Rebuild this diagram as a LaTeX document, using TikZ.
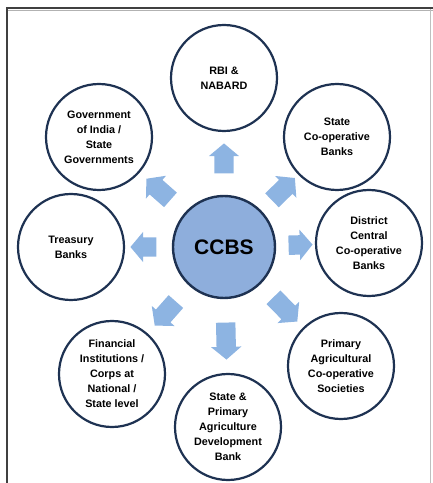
\documentclass[tikz,border=0pt]{standalone}
\usepackage{fontspec}
\setmainfont{Liberation Sans}
\usepackage{tikz}
\usetikzlibrary{calc, positioning, shapes.arrows}
\definecolor{ringcolor}{RGB}{30,50,82}
\definecolor{arrowcolor}{RGB}{141,180,226}
\definecolor{hubcolor}{RGB}{142,174,220}
\definecolor{framecolor}{RGB}{64,64,64}

\begin{document}
\begin{tikzpicture}[x=1pt, y=1pt,
  entity/.style={circle, draw=ringcolor, line width=2.2pt, fill=white,
    minimum size=106pt, inner sep=0pt, align=center, text=black,
    font=\fontsize{10.8}{15}\selectfont\bfseries},
  hub/.style={entity, fill=hubcolor, line width=2.4pt, minimum size=102pt,
    font=\fontsize{21}{24}\selectfont\bfseries},
  flow/.style={single arrow, fill=arrowcolor, draw=none, inner xsep=0pt,
    inner ysep=9.5pt, single arrow head extend=5.5pt,
    single arrow tip angle=100, anchor=center}]
  \useasboundingbox (0,0) rectangle (433,483);

  % frame
  \draw[framecolor, line width=2pt] (6.5,0) -- (6.5,475) -- (433,475);
  \draw[black!30] (7.5,473.2) -- (433,473.2);
  \draw[black!25] (430,0) -- (430,474);

  % centre and the bodies round it
  \node[hub] (ccbs) at (224,236) {CCBS};
  \node[entity] (rbi) at (224,405) {RBI \&\\NABARD};
  \node[entity] (state) at (337,346) {State\\Co-operative\\Banks};
  \node[entity] (district) at (369,240) {District\\Central\\Co-operative\\Banks};
  \node[entity] (pacs) at (341,117) {Primary\\Agricultural\\Co-operative\\Societies};
  \node[entity] (sapdb) at (228,56) {State \&\\Primary\\Agriculture\\Development\\Bank};
  \node[entity] (fin) at (112,109) {Financial\\Institutions /\\Corps at\\National /\\State level};
  \node[entity] (treasury) at (71,236) {Treasury\\Banks};
  \node[entity] (govt) at (99,346) {Government\\of India /\\State\\Governments};

  % block arrows half way out
  \foreach \target/\len in {rbi/30, state/32, district/24, pacs/34, sapdb/37,
      fin/32, treasury/26, govt/32}
    \path let \p1=($(\target)-(ccbs)$), \n1={atan2(\y1,\x1)} in
      node[flow, minimum height=\len pt, rotate=\n1] (arrow-\target)
        at ($(ccbs)!0.5!(\target)$) {};
\end{tikzpicture}
\end{document}
